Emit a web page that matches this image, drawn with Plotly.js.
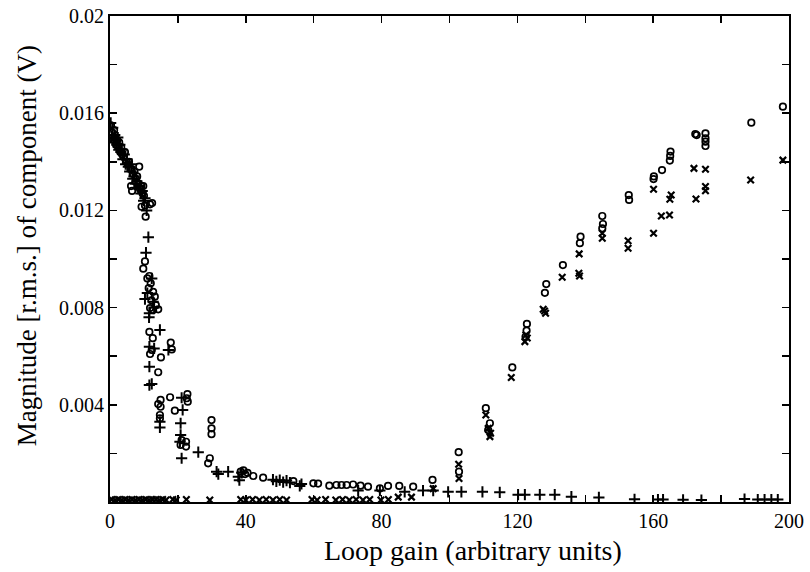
<!DOCTYPE html>
<html><head><meta charset="utf-8">
<script src="https://cdn.plot.ly/plotly-3.0.1.min.js"></script>
<style>html,body{margin:0;padding:0;background:#fff}#chart{width:810px;height:572px}</style>
</head><body><div id="chart"></div>
<script>
// Values in mV (converted to V below)
const circGain = [0.3,0.6,0.9,1.2,1.5,1.8,2.1,2.4,2.7,3.0,3.3,3.6,4.0,4.4,4.8,5.2,5.6,6.0,6.2,6.5,6.4,6.8,7.2,7.6,8.0,8.6,8.4,8.8,9.2,9.8,9.6,10.0,10.3,11.8,9.3,10.5,12.4,
  10.3,9.8,11.6,12.0,11.0,12.7,13.2,11.8,14.2,12.7,13.5,12.2,11.4,
  11.6,12.6,17.9,12.3,11.8,18.2,15.0,14.2,17.7,14.9,14.2,14.9,14.7,14.7,19.1,22.8,22.6,22.9,21.1,22.4,22.4,20.8,29.9,29.9,29.9,29.4,28.9,
  38.5,39.3,39.8,40.5,42.2,45.1,54.0,59.9,61.3,64.6,66.7,68.2,69.7,71.6,73.8,76.0,79.5,81.9,85.2,89.3,95.0,
  102.7,102.8,110.7,111.9,111.4,118.5,122.8,122.7,122.4,128.5,128.1,133.4,138.6,138.4,145.0,145.2,145.0,152.8,152.9,160.1,160.2,162.6,165.1,165.0,164.9,172.4,172.8,175.4,175.4,175.4,175.4,188.9,198.2];
const circMag = [15.5,15.2,14.9,15.3,15.0,14.7,14.9,14.6,14.8,14.4,14.6,14.3,14.2,14.4,14.0,13.9,14.0,13.7,13.0,12.8,13.7,13.5,13.6,13.3,13.4,13.8,13.1,12.9,13.0,13.0,12.7,12.6,12.2,12.25,12.15,11.74,12.3,
  9.9,9.6,9.3,9.0,9.2,8.65,8.45,7.98,7.93,7.9,8.1,8.3,8.8,
  7.0,6.74,6.56,6.26,6.09,6.28,5.95,5.34,4.31,4.2,4.03,3.92,3.58,3.44,3.76,4.44,4.27,4.13,2.55,2.48,2.28,2.35,3.37,3.03,2.79,1.8,1.59,
  1.25,1.3,1.15,1.2,1.07,1.0,0.86,0.77,0.76,0.67,0.7,0.7,0.7,0.72,0.67,0.63,0.56,0.66,0.66,0.63,0.91,
  2.05,1.25,3.86,3.24,2.96,5.54,7.33,7.05,6.8,8.97,8.61,9.75,10.92,10.65,11.77,11.44,11.26,12.63,12.43,13.29,13.4,13.66,14.42,14.24,14.05,15.14,15.1,15.17,14.97,14.83,14.65,15.61,16.27];

const plusGain = [0.2,0.5,0.8,1.1,1.4,1.7,2.0,2.3,2.6,2.9,3.2,3.5,3.8,4.2,4.6,5.0,5.4,5.8,6.3,6.7,7.1,7.5,7.9,8.3,8.7,9.1,9.5,9.9,10.3,10.8,11.3,10.6,
  10.3,11.6,12.7,11.0,12.3,13.0,11.5,
  14.7,11.6,13.0,17.2,11.6,12.3,11.6,14.7,14.7,21.1,21.4,20.8,20.8,20.6,21.1,26.0,31.4,31.9,34.8,
  37.8,38.8,38.1,48.0,49.0,50.0,51.0,52.0,53.0,55.9,56.4,73.1,79.5,86.8,92.2,95.2,
  99.6,103.5,109.7,114.8,120.2,122.2,126.6,131.0,135.9,144.0,154.5,161.4,162.9,168.8,174.2,186.9,190.8,192.8,194.8,196.7];
const plusMag = [15.6,15.0,15.4,14.8,15.1,14.9,14.7,15.0,14.5,14.7,14.4,14.5,14.1,14.3,13.9,14.1,13.8,13.6,13.9,13.3,13.4,13.1,13.2,12.9,13.0,12.7,12.8,12.4,12.5,12.0,10.9,10.26,
  8.35,7.77,8.24,8.6,9.2,8.0,7.6,
  7.08,6.39,6.32,6.26,5.57,4.86,4.81,3.3,3.07,4.29,3.79,3.24,2.76,2.48,1.8,2.05,1.25,1.15,1.25,
  1.04,1.2,0.9,0.92,0.85,0.9,0.82,0.88,0.8,0.66,0.74,0.47,0.47,0.42,0.47,0.47,
  0.42,0.42,0.42,0.4,0.3,0.3,0.3,0.3,0.22,0.19,0.11,0.1,0.1,0.09,0.08,0.12,0.1,0.1,0.1,0.1];

const xGain = [0.5,1.5,2.5,3.5,4.5,5.5,6.5,7.5,8.5,9.5,10.5,11.5,12.5,13.5,14.5,15.5,16.5,18.5,19.5,22.5,29.4,38.5,40.0,42.0,44.0,46.0,48.0,50.0,52.0,59.5,61.0,63.5,66.5,68.5,70.5,72.5,74.5,76.5,79.8,82.0,84.9,88.8,95.2,
  102.7,102.8,110.7,111.4,111.9,112.1,118.2,122.5,122.2,122.9,127.6,128.3,128.0,133.2,138.2,138.1,138.3,145.0,145.0,152.6,152.6,160.1,160.1,162.4,164.8,165.3,164.9,172.0,172.6,175.4,175.4,175.4,188.7,198.2];
const xMag = [0.1,0.08,0.1,0.08,0.1,0.08,0.1,0.08,0.1,0.08,0.1,0.08,0.1,0.1,0.08,0.1,0.08,0.1,0.08,0.1,0.08,0.1,0.08,0.1,0.08,0.1,0.08,0.1,0.08,0.1,0.08,0.1,0.08,0.1,0.08,0.1,0.08,0.1,0.08,0.1,0.2,0.2,0.55,
  1.55,0.97,3.58,3.03,2.69,2.83,5.12,6.87,6.6,6.75,7.93,7.77,7.86,9.25,10.21,9.41,9.3,11.06,10.85,10.75,10.44,12.87,11.06,11.77,11.81,12.63,12.46,13.73,12.47,13.69,12.98,12.81,13.25,14.07];

const xTickVals = [0,40,80,120,160,200];
const xTickText = ['0','40','80','120','160','200'];
const yTickVals = [0.004,0.008,0.012,0.016,0.02];
const yTickText = ['0.004','0.008','0.012','0.016','0.02'];
const xTitle = 'Loop gain (arbitrary units)';
const yTitle = 'Magnitude [r.m.s.] of component (V)';

const toV = a => a.map(v => v / 1000);
const mk = (sym, size, w) => ({symbol: sym, size: size, color: '#000', line: {color: '#000', width: w}});

const data = [
  {x: circGain, y: toV(circMag), type: 'scatter', mode: 'markers', marker: mk('circle-open', 6.5, 1.7)},
  {x: plusGain, y: toV(plusMag), type: 'scatter', mode: 'markers', marker: mk('cross-thin-open', 8, 2)},
  {x: xGain, y: toV(xMag), type: 'scatter', mode: 'markers', marker: mk('x-thin-open', 6.5, 2.2)}
];

const fam = 'Liberation Serif, Times New Roman, serif';
const axFont = {family: fam, size: 20, color: '#000'};
const layout = {
  width: 810, height: 572,
  margin: {l: 110, r: 21, t: 16, b: 70},
  paper_bgcolor: '#fff', plot_bgcolor: '#fff',
  showlegend: false,
  font: axFont,
  xaxis: {
    range: [0, 200], tickmode: 'array', tickvals: xTickVals, ticktext: xTickText,
    ticks: 'inside', ticklen: 7, tickwidth: 1.5, tickcolor: '#000',
    minor: {tickmode: 'array', tickvals: [20,60,100,140,180], ticks: 'inside', ticklen: 7, tickwidth: 1.5, tickcolor: '#000'},
    showline: true, linecolor: '#000', linewidth: 2, mirror: 'ticks',
    showgrid: false, zeroline: false, tickfont: axFont
  },
  yaxis: {
    range: [0, 0.02], tickmode: 'array', tickvals: yTickVals, ticktext: yTickText,
    ticks: 'inside', ticklen: 7, tickwidth: 1.5, tickcolor: '#000',
    minor: {tickmode: 'array', tickvals: [0.002,0.006,0.01,0.014,0.018], ticks: 'inside', ticklen: 7, tickwidth: 1.5, tickcolor: '#000'},
    showline: true, linecolor: '#000', linewidth: 2, mirror: 'ticks',
    showgrid: false, zeroline: false, tickfont: axFont
  },
  annotations: [
    {text: xTitle, xref: 'paper', yref: 'paper', x: 0.535, y: -0.099, xanchor: 'center', yanchor: 'middle',
     showarrow: false, font: {family: fam, size: 28, color: '#000'}},
    {text: yTitle, xref: 'paper', yref: 'paper', x: -0.121, y: 0.528, xanchor: 'center', yanchor: 'middle',
     textangle: -90, showarrow: false, font: {family: fam, size: 27, color: '#000'}}
  ]
};
Plotly.newPlot('chart', data, layout, {displayModeBar: false, staticPlot: true});
</script></body></html>
